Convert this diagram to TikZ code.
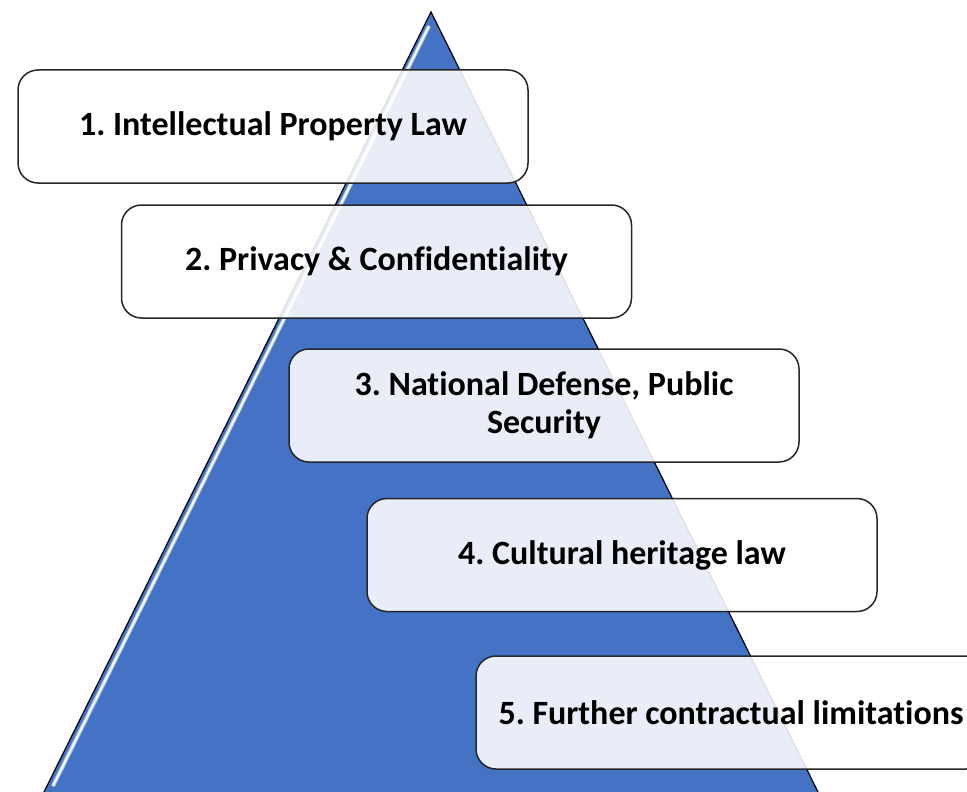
\documentclass[tikz,border=0pt]{standalone}
\usepackage{fontspec}
\setmainfont{Carlito}[Ligatures={NoCommon}]
\definecolor{pyramidblue}{RGB}{68,114,196}
\definecolor{glint}{RGB}{170,198,238}

\begin{document}
\frenchspacing
\begin{tikzpicture}[
        x=1pt, y=-1pt,
        layer/.style={draw=black!85, line width=1.5pt, rounded corners=20pt,
          fill=white, fill opacity=0.88, text opacity=1,
          minimum width=510pt, minimum height=113pt, align=center,
          font=\fontsize{34}{38}\selectfont\bfseries}
      ]
      \useasboundingbox (0,0) rectangle (967,792);

      % pyramid
      \fill[pyramidblue] (431,12) -- (820,796) -- (42,796) -- cycle;
      \draw[line width=4pt, glint] (429,26) -- (53,786);
      \draw[line width=1.8pt, white] (429,26) -- (53,786);
      \draw[line width=1.2pt, black] (820,796) -- (431,12) -- (42,796);

      % layers
      \node[layer] (ip)       at (273,126.5) {1. Intellectual Property Law};
      \node[layer] (privacy)  at (376.5,261.5) {2. Privacy \& Confidentiality};
      \node[layer] (defense)  at (544,405.5) {3. National Defense, Public\\Security};
      \node[layer] (heritage) at (622,555) {4. Cultural heritage law};
      \node[layer] (contract) at (731,712.5) {5. Further contractual limitations};

      \end{tikzpicture}
\end{document}
